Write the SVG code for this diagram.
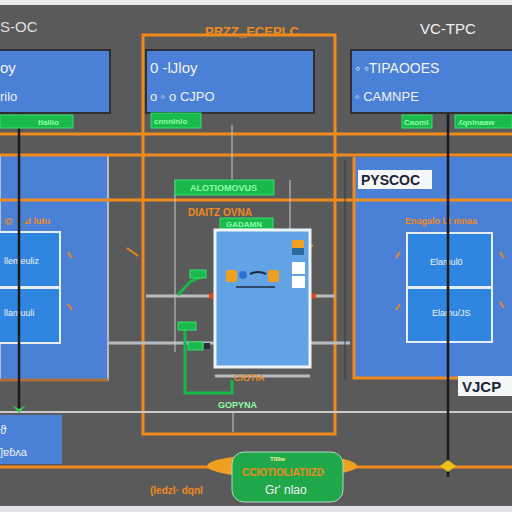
<svg xmlns="http://www.w3.org/2000/svg" width="512" height="512" viewBox="0 0 512 512">
<style>
.t{font-family:"Liberation Sans","DejaVu Sans",sans-serif}
.w{fill:#f2f2f2}
.o{fill:#f08a1c;font-weight:bold}
.g{fill:#8dffa8;font-weight:bold}
.box{fill:#4a80d6;stroke:#2d2f33;stroke-width:2}
.panel{fill:#4a80d6}
.cell{fill:#2f86e0;stroke:#e8eef5;stroke-width:2}
.or{stroke:#f08a1c;stroke-width:3;fill:none}
.gr{stroke:#b9bcbf;stroke-width:3;fill:none}
.gn{stroke:#17b84a;stroke-width:3;fill:none}
.tag{fill:#19b94c;stroke:#34e06a;stroke-width:1}
.bl{stroke:#1a1a1a;stroke-width:2.5;fill:none}
</style>
<rect width="512" height="512" fill="#5a5a5b"/>
<rect width="512" height="5" fill="#e9e9e9"/>
<rect y="506" width="512" height="6" fill="#e4e4e8"/>

<g id="panel-left">
<rect class="panel" x="0" y="155" width="108" height="225" stroke="#d0d6de" stroke-width="1.5"/>
<line x1="0" y1="380" x2="108" y2="380" stroke="#b0703a" stroke-width="3"/>
<text class="t o" x="4" y="224" font-size="9">@ ∘ ⊿ lutu</text>
<rect class="cell" x="-2" y="232" width="62" height="55"/>
<rect class="cell" x="-2" y="288" width="62" height="55"/>
<text class="t w" x="4" y="264" font-size="9">llemeuliz</text>
<text class="t w" x="4" y="316" font-size="9">llamuuli</text>
</g>

<g id="panel-right">
<rect class="panel" x="354" y="157" width="158" height="221"/>
<path d="M354 157V378H460" class="or"/>
<text class="t o" x="405" y="224" font-size="9">Enagalo Lt mnaa</text>
<rect class="cell" x="407" y="233" width="85" height="54"/>
<rect class="cell" x="407" y="288" width="85" height="54"/>
<text class="t w" x="430" y="265" font-size="9">Elamul0</text>
<text class="t w" x="432" y="316" font-size="9">Elamu/JS</text>
</g>

<g id="connectors">
<line x1="0" y1="134" x2="512" y2="134" class="or"/>
<line x1="0" y1="155" x2="512" y2="155" class="or"/>
<line x1="0" y1="200" x2="512" y2="200" class="or"/>
<line x1="0" y1="467" x2="512" y2="467" class="or"/>
<rect x="143" y="35" width="192" height="399" class="or"/>
<line x1="0" y1="412" x2="512" y2="412" stroke="#c9cbcd" stroke-width="2"/>
<line x1="146" y1="296" x2="210" y2="296" class="gr"/>
<line x1="313" y1="296" x2="335" y2="296" class="gr"/>
<line x1="108" y1="343" x2="215" y2="343" class="gr"/>
<line x1="310" y1="343" x2="350" y2="343" class="gr"/>
<line x1="215" y1="376" x2="310" y2="376" class="gr"/>
<circle cx="212" cy="296" r="3" fill="#e8401c"/>
<circle cx="313" cy="296" r="3" fill="#e8401c"/>
<line x1="232" y1="125" x2="232" y2="180" stroke="#c9cbcd" stroke-width="1"/>
<line x1="290" y1="180" x2="290" y2="230" stroke="#c9cbcd" stroke-width="1"/>
<line x1="175" y1="180" x2="175" y2="352" stroke="#c9cbcd" stroke-width="1"/>
<line x1="233" y1="412" x2="233" y2="432" stroke="#c9cbcd" stroke-width="1"/>
<line x1="345" y1="160" x2="345" y2="380" stroke="#3a3a3a" stroke-width="1"/>
<path d="M178 295L190 282L205 275" class="gn"/>
<path d="M185 322V393H232V380" class="gn"/>
<line x1="19" y1="118" x2="19" y2="410" class="bl"/>
<line x1="448" y1="108" x2="448" y2="477" class="bl"/>
<circle cx="19" cy="120" r="5" fill="#1c8a3a" stroke="#111" stroke-width="1"/>
<path d="M12 405L19 413L26 405L19 409Z" fill="#2ad34f"/>
<path d="M440 466L448 460L456 466L448 472Z" fill="#e8c21a"/>
<path d="M127 248L138 256M68 252L72 258M68 304L72 310M400 252L396 258M400 304L396 310M500 252L504 258M500 302L504 308M305 250L313 245" stroke="#e8862a" stroke-width="2"/>
</g>

<g id="node-top-left">
<text class="t w" x="0" y="32" font-size="15" fill-opacity="0.9">S-OC</text>
<rect class="box" x="-2" y="50" width="112" height="63"/>
<text class="t w" x="0" y="73" font-size="15">oy</text>
<text class="t w" x="0" y="101" font-size="13">rilo</text>
<rect class="tag" x="0" y="115" width="73" height="13"/>
<text class="t g" x="38" y="125" font-size="8">tlallio</text>
</g>

<g id="node-top-mid">
<text class="t o" x="205" y="36" font-size="13">PRZZ_ECEPLC</text>
<rect class="box" x="146" y="50" width="168" height="63"/>
<text class="t w" x="150" y="73" font-size="15">0 -lJloy</text>
<text class="t w" x="150" y="101" font-size="13">o    ◦ o CJPO</text>
<rect class="tag" x="151" y="113" width="50" height="15"/>
<text class="t g" x="154" y="124" font-size="8">cnnnlnlo</text>
</g>

<g id="node-top-right">
<text class="t w" x="420" y="34" font-size="15">VC-TPC</text>
<rect class="box" x="351" y="50" width="163" height="63"/>
<text class="t w" x="355" y="73" font-size="14">◦ ◦TIPAOOES</text>
<text class="t w" x="355" y="101" font-size="13">◦ CAMNPE</text>
<rect class="tag" x="402" y="115" width="30" height="13"/>
<text class="t g" x="404" y="125" font-size="8">Caoml</text>
<rect class="tag" x="455" y="115" width="57" height="13"/>
<text class="t g" x="458" y="125" font-size="8">ʎqnlnaaw</text>
</g>

<g id="label-pyscoc">
<rect x="358" y="170" width="74" height="19" fill="#f4f6f8"/>
<text class="t" x="361" y="185" font-size="14" font-weight="bold" fill="#1d2433">PYSCOC</text>
</g>
<g id="label-vjcp">
<rect x="458" y="376" width="56" height="20" fill="#f4f6f8"/>
<text class="t" x="462" y="392" font-size="15" font-weight="bold" fill="#1d2433">VJCP</text>
</g>

<g id="node-center-top">
<rect class="tag" x="175" y="180" width="99" height="15"/>
<text class="t g" x="190" y="191" font-size="9">ALOTIOMOVUS</text>
<text class="t o" x="188" y="216" font-size="10">DIAITZ OVNA</text>
<rect class="tag" x="220" y="218" width="53" height="11"/>
<text class="t g" x="226" y="227" font-size="8">GADAMN</text>
</g>

<g id="node-center">
<rect x="215" y="230" width="95" height="137" fill="#62a3e6" stroke="#eef3f8" stroke-width="3"/>
<rect x="226" y="270" width="11" height="12" rx="2" fill="#f0a020"/>
<rect x="268" y="270" width="11" height="12" rx="2" fill="#f0a020"/>
<circle cx="243" cy="275" r="4" fill="#2f6fd0"/>
<path d="M250 274Q258 270 266 274" stroke="#1c2a40" stroke-width="2" fill="none"/>
<line x1="236" y1="287" x2="275" y2="287" stroke="#1c2a40" stroke-width="1.5"/>
<rect x="292" y="240" width="12" height="8" fill="#f0a020"/>
<rect x="292" y="248" width="12" height="7" fill="#2a6a9a"/>
<rect x="292" y="262" width="13" height="12" fill="#ffffff"/>
<rect x="292" y="276" width="13" height="12" fill="#ffffff"/>
<text class="t o" x="234" y="381" font-size="9">CIOTIA</text>
</g>

<g id="node-green-tags">
<rect class="tag" x="190" y="270" width="16" height="8"/>
<rect class="tag" x="178" y="322" width="18" height="8"/>
<rect class="tag" x="188" y="342" width="15" height="8"/>
<rect x="204" y="343" width="6" height="6" fill="#2a2e3a"/>
<text class="t g" x="218" y="408" font-size="9">GOPYNA</text>
</g>

<g id="node-left-bottom">
<rect class="panel" x="0" y="415" width="62" height="49"/>
<text class="t w" x="0" y="434" font-size="12">ϑ</text>
<text class="t w" x="0" y="456" font-size="11">]ɐɓʌa</text>
</g>

<g id="node-bottom">
<ellipse cx="282" cy="466" rx="75" ry="12" fill="#f0a020"/>
<rect x="232" y="452" width="111" height="50" rx="12" fill="#1fa84a" stroke="#b0d8c0" stroke-width="1"/>
<text class="t" x="270" y="461" font-size="6" fill="#f6f0a0" font-weight="bold">Tllllw</text>
<text class="t o" x="242" y="476" font-size="10" fill="#f0a020">CCIOTIOLIATIIZD</text>
<text class="t w" x="265" y="494" font-size="12">Gr' nlao</text>
<text class="t o" x="150" y="494" font-size="10" font-weight="normal">(ledzl· dqnl</text>
</g>
</svg>
